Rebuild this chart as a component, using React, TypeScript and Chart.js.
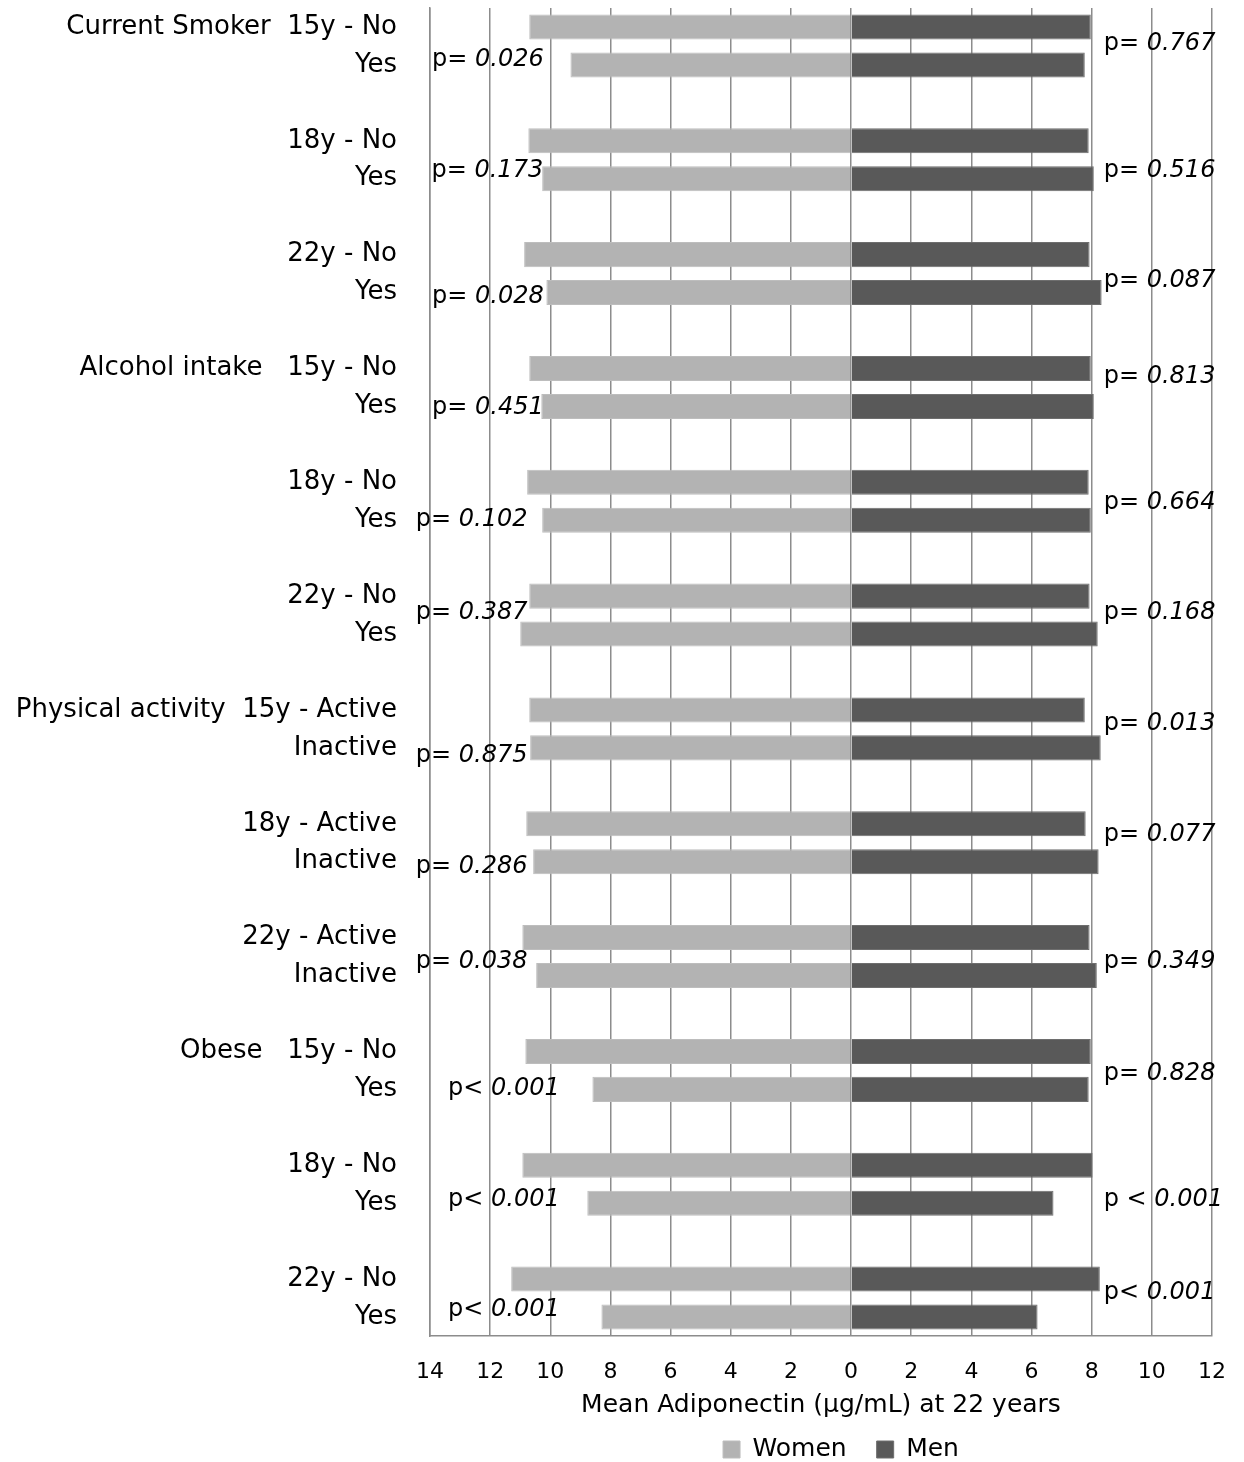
import React, { useEffect, useRef } from "react";
import { Chart, registerables } from "chart.js";

Chart.register(...registerables);

// Row labels (one per bar pair), top to bottom
const rowLabels = [
  "Current Smoker  15y - No", "Yes",
  "18y - No", "Yes",
  "22y - No", "Yes",
  "Alcohol intake   15y - No", "Yes",
  "18y - No", "Yes",
  "22y - No", "Yes",
  "Physical activity  15y - Active", "Inactive",
  "18y - Active", "Inactive",
  "22y - Active", "Inactive",
  "Obese   15y - No", "Yes",
  "18y - No", "Yes",
  "22y - No", "Yes",
];

// Mean adiponectin (µg/mL) at 22 years
const womenValues = [
  10.7, 9.33, 10.73, 10.27, 10.87, 10.13,
  10.7, 10.3, 10.77, 10.27, 10.7, 11.0,
  10.7, 10.67, 10.8, 10.57, 10.93, 10.47,
  10.83, 8.6, 10.93, 8.77, 11.3, 8.3,
];
const menValues = [
  7.97, 7.77, 7.9, 8.07, 7.93, 8.33,
  7.97, 8.07, 7.9, 7.97, 7.93, 8.2,
  7.77, 8.3, 7.8, 8.23, 7.93, 8.17,
  7.97, 7.9, 8.03, 6.73, 8.27, 6.2,
];

// p-values per comparison (women on the left, men on the right)
const pWomen = [
  "p= 0.026", "p= 0.173", "p= 0.028", "p= 0.451", "p= 0.102", "p= 0.387",
  "p= 0.875", "p= 0.286", "p= 0.038", "p< 0.001", "p< 0.001", "p< 0.001",
];
const pMen = [
  "p= 0.767", "p= 0.516", "p= 0.087", "p= 0.813", "p= 0.664", "p= 0.168",
  "p= 0.013", "p= 0.077", "p= 0.349", "p= 0.828", "p < 0.001", "p< 0.001",
];

// x-axis tick range
const xMin = -14;
const xMax = 12;
const xStep = 2;

// annotation placement (category offset within pair, x value of text start)
const pWomenRowOffset = [0.87, 0.79, 1.11, 1.03, 0.98, 0.45, 1.21, 1.13, 0.63, 0.98, 0.9, 0.82];
const pWomenX = [-13.93, -13.95, -13.93, -13.93, -14.47, -14.47, -14.47, -14.47, -14.47, -13.4, -13.4, -13.4];
const pMenRowOffset = [0.45, 0.79, 0.69, 0.21, 0.53, 0.45, 0.37, 0.29, 0.63, 0.58, 0.9, 0.37];
const pMenX = 8.4;

const FONT = "'DejaVu Sans', 'Open Sans', sans-serif";
const CLEAR = "rgba(0,0,0,0)";

export default function App() {
  const ref = useRef<HTMLCanvasElement | null>(null);

  useEffect(() => {
    if (!ref.current) return;

    const labels: string[] = [];
    const women: (number | null)[] = [];
    const men: (number | null)[] = [];
    rowLabels.forEach((l, i) => {
      labels.push(l);
      women.push(-womenValues[i]);
      men.push(menValues[i]);
      if (i % 2 === 1 && i < rowLabels.length - 1) {
        labels.push("");
        women.push(null);
        men.push(null);
      }
    });

    const drawP = (ctx: CanvasRenderingContext2D, text: string, x: number, y: number) => {
      const m = text.match(/^(p\s*[=<]\s*)(.*)$/);
      const pre = m ? m[1] : text;
      const num = m ? m[2] : "";
      ctx.textBaseline = "middle";
      ctx.textAlign = "left";
      ctx.fillStyle = "#000";
      ctx.font = `24px ${FONT}`;
      ctx.fillText(pre, x, y);
      const w = ctx.measureText(pre).width;
      ctx.font = `italic 24px ${FONT}`;
      ctx.fillText(num, x + w, y);
    };

    const pPlugin = {
      id: "pvalues",
      afterDatasetsDraw(chart: any) {
        const { ctx, scales } = chart;
        const xs = scales.x;
        const ys = scales.y;
        ctx.save();
        for (let g = 0; g < pWomen.length; g++) {
          const base = g * 3;
          drawP(ctx, pWomen[g], xs.getPixelForValue(pWomenX[g]), ys.getPixelForValue(base + pWomenRowOffset[g]));
          drawP(ctx, pMen[g], xs.getPixelForValue(pMenX), ys.getPixelForValue(base + pMenRowOffset[g]));
        }
        ctx.restore();
      },
    };

    const legendShift = {
      id: "legendShift",
      afterLayout(chart: any) {
        const lg = chart.legend;
        const ca = chart.chartArea;
        if (!lg || !ca) return;
        const dx = (ca.left + ca.right) / 2 + 20 - (lg.left + lg.right) / 2;
        lg.left += dx;
        lg.right += dx;
        lg.top -= 17;
        lg.bottom = chart.height;
        lg.height = lg.bottom - lg.top;
      },
    };

    const chart = new Chart(ref.current, {
      type: "bar",
      data: {
        labels,
        datasets: [
          {
            label: "Women",
            data: women,
            backgroundColor: "#b3b3b3",
            borderColor: "#bdbdbd",
            borderWidth: 1,
            categoryPercentage: 1,
            barPercentage: 0.66,
          },
          {
            label: "Men",
            data: men,
            backgroundColor: "#595959",
            borderColor: "#6e6e6e",
            borderWidth: 1,
            categoryPercentage: 1,
            barPercentage: 0.66,
          },
        ],
      },
      options: {
        indexAxis: "y",
        animation: false,
        responsive: true,
        maintainAspectRatio: false,
        layout: { padding: { top: 8, right: 32, left: 0, bottom: 0 } },
        plugins: {
          tooltip: { enabled: false },
          legend: {
            position: "bottom",
            maxHeight: 38,
            labels: {
              font: { family: FONT, size: 25 },
              color: "#000",
              boxWidth: 17,
              boxHeight: 17,
              padding: 30,
            },
          },
        },
        scales: {
          x: {
            stacked: true,
            min: xMin,
            max: xMax,
            afterFit: (s: any) => {
              s.height = 88;
            },
            ticks: {
              stepSize: xStep,
              color: "#000",
              font: { family: FONT, size: 22 },
              padding: 0,
              callback: (v: any) => String(Math.abs(Number(v))),
            },
            grid: {
              color: "#8c8c8c",
              lineWidth: 1.5,
              drawTicks: true,
              tickLength: 23,
              tickColor: CLEAR,
            },
            border: { display: true, color: "#8c8c8c", width: 1.5 },
            title: {
              display: true,
              text: "Mean Adiponectin (µg/mL) at 22 years",
              color: "#000",
              font: { family: FONT, size: 25 },
              padding: { top: 0, bottom: 4 },
            },
          },
          y: {
            stacked: true,
            afterFit: (s: any) => {
              s.width = 430;
            },
            ticks: {
              autoSkip: false,
              color: "#000",
              font: { family: FONT, size: 26, lineHeight: 0.6 },
              padding: 0,
            },
            grid: {
              display: true,
              drawOnChartArea: false,
              drawTicks: true,
              tickLength: 33,
              tickColor: CLEAR,
              color: CLEAR,
            },
            border: { display: true, color: "#8c8c8c", width: 1.5 },
          },
        },
      },
      plugins: [pPlugin, legendShift],
    });

    return () => chart.destroy();
  }, []);

  return (
    <div style={{ position: "absolute", left: 0, top: 0, width: 1244, height: 1462 }}>
      <canvas ref={ref} />
    </div>
  );
}
